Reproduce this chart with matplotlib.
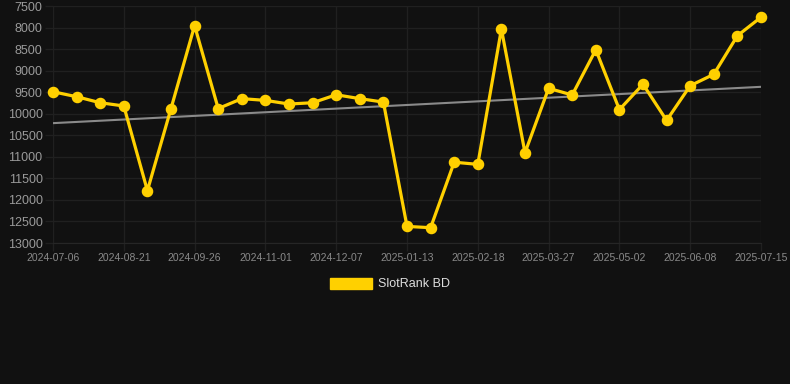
import numpy as np
import matplotlib
matplotlib.use("Agg")
import matplotlib.pyplot as plt
from matplotlib.patches import Patch

plt.rcParams["font.family"] = ["Liberation Sans", "DejaVu Sans"]

# --- data ---
rank = [9490, 9605, 9745, 9820, 11785, 9880, 7955, 9880, 9650, 9690,
        9775, 9745, 9560, 9650, 9730, 12615, 12645, 11125, 11175, 8035,
        10905, 9410, 9565, 8515, 9905, 9315, 10155, 9350, 9085, 8190, 7760]
tick_labels = ["2024-07-06", "2024-08-21", "2024-09-26", "2024-11-01", "2024-12-07",
               "2025-01-13", "2025-02-18", "2025-03-27", "2025-05-02", "2025-06-08",
               "2025-07-15"]
y_ticks = [7500, 8000, 8500, 9000, 9500, 10000, 10500, 11000, 11500, 12000, 12500, 13000]
series_name = "SlotRank BD"

bg = "#111111"
grid_c = "#202020"
gold = "#FFD000"

W, H = 790, 384
fig = plt.figure(figsize=(W / 100, H / 100), dpi=100, facecolor=bg)
ax = fig.add_axes([53 / W, 1 - 243 / H, (761 - 53) / W, 237 / H], facecolor=bg)

x = np.arange(len(rank))

# trend line (least squares)
k, b = np.polyfit(x, rank, 1)
ax.plot(x, k * x + b, color="#8a8a8a", lw=1.5, zorder=2)

ax.plot(x, rank, color=gold, lw=2.3, marker="o", ms=7.3, clip_on=False, zorder=3)

ax.set_xlim(0, len(rank) - 1)
ax.set_ylim(13000, 7500)
ax.set_yticks(y_ticks)
ax.set_xticks(x[::3])
ax.set_xticklabels(tick_labels)

ax.grid(True, color=grid_c, lw=1)
for s in ax.spines.values():
    s.set_visible(False)
ax.spines["bottom"].set_visible(True)
ax.spines["bottom"].set_color("#262626")
ax.tick_params(axis="both", length=6, color=grid_c, width=1, pad=1.5)
ax.tick_params(axis="y", labelsize=9, labelcolor="#9a9a9a")
ax.tick_params(axis="x", labelsize=7.5, labelcolor="#8a8a8a")

leg = fig.legend(handles=[Patch(facecolor=gold, edgecolor=gold)], labels=[series_name],
                 loc="center", bbox_to_anchor=(390 / W, 1 - 284 / H), frameon=False,
                 fontsize=9, handlelength=3.3, handleheight=1.0, handletextpad=0.5)
for t in leg.get_texts():
    t.set_color("#dddddd")

fig.savefig("out.png", dpi=100, facecolor=bg)
